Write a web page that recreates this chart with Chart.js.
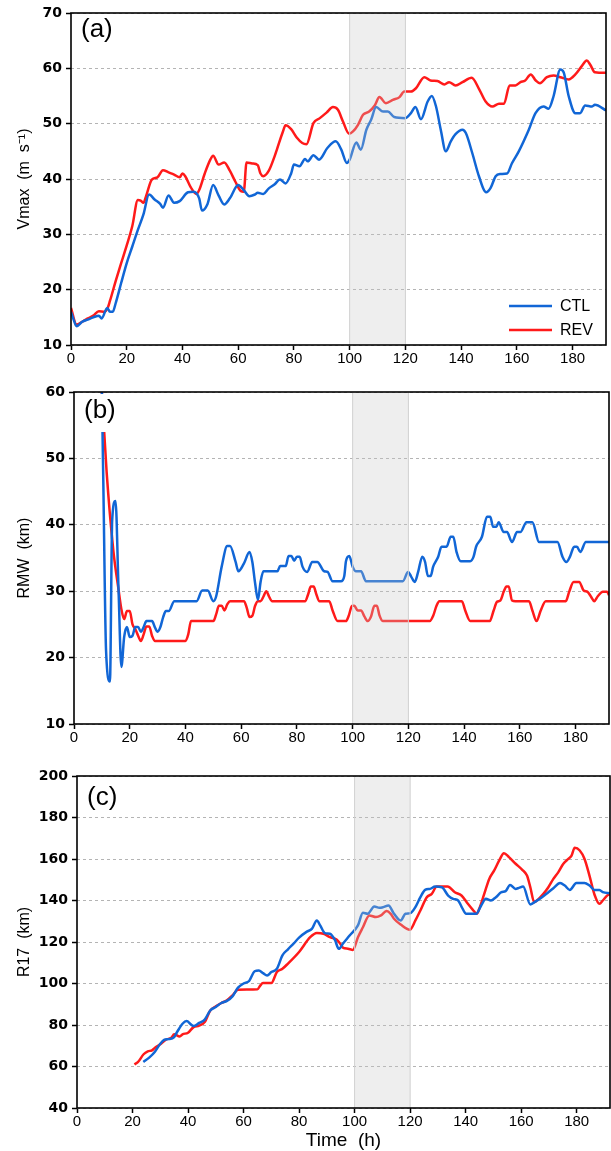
<!DOCTYPE html>
<html lang="en">
<head>
<meta charset="UTF-8">
<title>Vmax / RMW / R17</title>
<script src="https://cdn.jsdelivr.net/npm/chart.js@4.4.0/dist/chart.umd.min.js"></script>
<style>
  body { margin: 0; background: #fff; }
  #wrap { position: relative; width: 611px; height: 1151px; }
  canvas { position: absolute; left: 0; }
</style>
</head>
<body>
<div id="wrap">
  <canvas id="chart-a" width="611" height="372" style="top:0px"></canvas>
  <canvas id="chart-b" width="611" height="380" style="top:372px"></canvas>
  <canvas id="chart-c" width="611" height="399" style="top:752px"></canvas>
</div>
<script>
// ---- data (time in hours) ----
const seriesNames = ['CTL', 'REV'];
const hourTicks = [0, 20, 40, 60, 80, 100, 120, 140, 160, 180];

// (a) Vmax (m/s)
const vmaxCtlHours = [0, 1, 2, 4, 6, 8, 10, 11, 13, 14, 15, 16, 18, 20, 22, 24, 26, 28, 30, 32, 33, 35, 37, 39, 42, 44, 46, 47, 49, 51, 53, 55, 57, 60, 62, 64, 66, 67, 69, 71, 73, 75, 77, 79, 80, 82, 84, 85, 87, 89, 92, 95, 97, 99, 100, 102.4, 104, 106, 107.7, 109.5, 112, 113.7, 116, 120, 122, 123.6, 125.6, 128, 129.5, 131, 132.7, 134.5, 136.3, 138, 140.5, 141.7, 144, 146.4, 149, 150.6, 152.4, 154, 156.5, 158.3, 160.7, 164.3, 166.7, 169.6, 171.4, 173.2, 175.6, 176.8, 178.6, 181, 182.7, 184.5, 187, 188, 192];
const vmaxCtl = [16.0, 14.5, 13.4, 14.2, 14.6, 15.0, 15.3, 14.8, 16.7, 16.0, 16.0, 17.5, 21.2, 24.8, 27.8, 30.8, 33.6, 37.2, 36.3, 35.5, 34.8, 37.0, 35.7, 36.0, 37.6, 37.7, 36.5, 34.3, 35.5, 38.9, 37.0, 35.4, 36.5, 38.9, 38.0, 36.9, 37.2, 37.5, 37.3, 38.3, 39.0, 39.9, 39.2, 41.0, 42.6, 42.3, 43.6, 43.2, 44.3, 43.5, 45.6, 46.8, 45.3, 42.9, 43.5, 46.6, 45.3, 48.9, 50.7, 53.0, 52.2, 52.2, 51.2, 51.0, 51.9, 53.0, 50.8, 54.0, 55.0, 53.1, 48.9, 45.0, 46.8, 48.1, 48.9, 48.3, 44.7, 40.5, 37.6, 38.4, 40.5, 40.9, 41.0, 42.9, 45.0, 48.9, 51.9, 53.1, 52.7, 55.0, 59.8, 59.3, 55.0, 51.9, 51.9, 53.3, 53.1, 53.4, 52.4];
const vmaxRevHours = [0, 2, 4, 6, 8, 10, 12, 13, 14, 16, 18, 20, 22, 24, 25, 26, 27, 29, 31, 33, 35, 37, 39, 40, 41, 43, 45, 46, 48, 50, 51, 53, 55, 57, 59, 61, 62, 63, 65, 67, 68, 69, 71, 73, 74, 76, 77, 79, 81, 83, 84.5, 87, 89.3, 91.7, 94, 95.8, 97.6, 99.8, 101.2, 103, 104.8, 107, 109, 110.7, 113, 115.5, 117.9, 119.6, 122, 123.8, 126.8, 129, 131.5, 134, 135.7, 138, 140.5, 143.8, 146.4, 148.8, 151.2, 153.6, 155.4, 157.4, 159.5, 161.3, 163, 165, 166.8, 168.3, 170.8, 173.2, 175.6, 178.6, 181, 183.3, 185.1, 186.3, 188, 192];
const vmaxRev = [16.7, 13.7, 14.2, 14.8, 15.3, 16.1, 16.0, 16.5, 18.0, 21.5, 24.8, 28.0, 31.5, 36.2, 36.1, 35.7, 37.0, 39.9, 40.3, 41.6, 41.2, 40.8, 40.3, 41.0, 40.5, 38.5, 37.3, 38.0, 41.0, 43.5, 44.2, 42.6, 43.0, 41.5, 39.5, 37.8, 37.7, 43.0, 42.8, 42.5, 41.0, 40.5, 41.5, 44.0, 45.5, 48.5, 49.7, 49.0, 47.5, 46.5, 46.3, 50.1, 51.0, 52.0, 53.0, 52.5, 50.4, 48.2, 48.6, 49.8, 51.6, 52.2, 53.3, 54.8, 53.7, 54.3, 54.8, 55.8, 55.8, 56.4, 58.4, 57.8, 57.7, 57.1, 57.5, 56.9, 57.5, 58.3, 56.3, 54.0, 53.1, 53.6, 53.6, 56.9, 56.9, 57.5, 57.8, 58.9, 57.8, 57.3, 58.4, 58.7, 58.4, 58.0, 58.9, 60.4, 61.4, 60.7, 59.3, 59.2];

// (b) RMW (km)
const rmwCtlHours = [10, 10.5, 11.5, 12.9, 13.7, 14.9, 16, 17, 18, 19, 20, 21, 22, 23, 24, 25, 26, 28, 29, 30, 31, 32, 33, 34, 36, 44, 46, 48, 50, 51, 53, 55, 56, 58, 59, 61, 63, 64, 65, 66, 67, 68, 73, 74, 76, 77, 78, 79, 80, 81, 82, 83.7, 85.5, 87.3, 89.8, 91, 92.8, 95.8, 97, 97.6, 98.8, 100, 101.2, 103, 104.8, 118, 119.9, 121, 122.3, 123.5, 125, 126, 127, 128, 128.9, 130.7, 131.9, 133.7, 135.2, 136.1, 137.3, 138.8, 142.2, 143.4, 144.3, 146.4, 148.2, 149.4, 150.4, 151.6, 152.4, 154.2, 155.4, 157.2, 159, 160.2, 162.4, 164.5, 166.9, 173.5, 175.3, 176.7, 178, 179.5, 180.5, 181.7, 183.7, 192];
const rmwCtl = [60.0, 47.0, 21.1, 16.4, 40.7, 43.6, 30.0, 18.6, 23.1, 24.6, 23.1, 23.3, 24.6, 24.6, 23.9, 24.6, 25.5, 25.5, 24.6, 23.9, 24.6, 26.1, 27.0, 27.0, 28.5, 28.5, 30.1, 30.1, 28.5, 29.2, 33.7, 36.8, 36.8, 34.4, 33.0, 34.2, 35.9, 34.4, 31.2, 28.7, 31.5, 33.0, 33.0, 33.8, 33.8, 35.3, 35.3, 34.6, 35.2, 35.2, 33.7, 32.9, 34.4, 34.4, 33.0, 32.9, 31.5, 31.5, 32.3, 34.5, 35.3, 33.7, 33.0, 33.0, 31.5, 31.5, 32.9, 32.2, 31.4, 32.9, 35.2, 34.4, 32.3, 32.3, 33.7, 35.2, 36.7, 36.7, 38.2, 38.2, 35.9, 34.5, 34.5, 35.2, 36.7, 38.2, 41.2, 41.2, 39.7, 39.7, 40.4, 38.9, 38.9, 37.4, 38.9, 38.9, 40.4, 40.4, 37.4, 37.4, 35.2, 34.4, 35.2, 36.7, 36.7, 35.9, 37.4, 37.4];
const rmwRevHours = [10, 11.7, 14.1, 16, 17, 18, 19, 20, 21, 22, 23, 24, 25, 26, 27, 28, 29, 40, 41, 42, 50, 51, 52, 53, 54, 55, 56, 61, 62, 63, 64, 65, 66, 67, 68, 69, 70, 71, 83, 84, 85, 86, 87, 88, 91.6, 92.8, 94.6, 97.6, 98.6, 99.8, 100.6, 101.8, 103, 104.2, 105.4, 106.6, 107.8, 108.7, 109.6, 110.8, 127.7, 128.9, 130.1, 131.1, 139.2, 140.4, 142.2, 149.2, 150.6, 151.8, 153, 154.2, 155.2, 156, 157.2, 158.4, 163.3, 164.5, 166, 167.5, 169.3, 176.5, 177.7, 179.3, 181.3, 182.9, 184.3, 185.5, 186.7, 187.9, 189.8, 191.3, 192];
const rmwRev = [60.0, 48.0, 36.2, 30.2, 27.3, 25.8, 27.0, 27.0, 25.0, 24.3, 23.3, 22.5, 23.5, 24.7, 24.7, 23.3, 22.5, 22.5, 23.5, 25.5, 25.5, 26.5, 27.8, 27.8, 27.1, 28.0, 28.5, 28.5, 27.5, 26.1, 26.3, 27.8, 28.5, 28.5, 29.2, 30.0, 29.2, 28.5, 28.5, 29.5, 30.7, 30.7, 29.5, 28.5, 28.5, 27.1, 25.5, 25.5, 26.3, 27.8, 27.8, 27.1, 27.1, 26.2, 25.5, 26.2, 27.8, 27.8, 26.4, 25.5, 25.5, 26.3, 27.8, 28.5, 28.5, 27.1, 25.5, 25.5, 27.1, 28.4, 28.6, 29.9, 30.7, 30.7, 28.6, 28.5, 28.5, 27.1, 25.5, 27.1, 28.5, 28.5, 29.9, 31.4, 31.4, 30.1, 29.9, 29.2, 28.5, 29.2, 29.9, 29.9, 29.4];

// (c) R17 (km)
const r17CtlHours = [23.9, 26, 28, 30, 31.5, 33, 35, 36, 38, 39.5, 41, 42, 44, 46, 48, 50, 52, 54, 56, 58, 60, 62, 64, 65.5, 67, 68.5, 70, 72, 74, 76, 78, 80, 82.8, 84.6, 86.4, 87.6, 89.3, 91.1, 92.9, 94.3, 95.9, 98.2, 101.2, 103, 104.7, 107.1, 108.9, 110.3, 112.2, 114.2, 116.6, 118.3, 120.1, 121.9, 123.7, 125.4, 127.2, 129, 131.4, 133.7, 135.5, 137.3, 138.5, 140.2, 143.8, 145.6, 147.3, 149.1, 150.9, 152.9, 154.4, 156, 158, 159.2, 160.7, 163.3, 165.4, 167.5, 169.8, 171.6, 174, 175.7, 177.5, 179.9, 182.8, 184.6, 186.4, 188.2, 189.4, 192];
const r17Ctl = [62.2, 64.3, 67.0, 71.0, 72.9, 73.2, 74.2, 76.5, 80.6, 81.9, 80.3, 79.5, 81.0, 82.6, 87.0, 88.7, 90.6, 91.6, 93.8, 98.0, 100.0, 101.2, 105.9, 106.3, 105.0, 103.9, 105.5, 107.1, 113.6, 116.5, 119.2, 122.1, 125.0, 126.3, 130.4, 128.0, 124.3, 124.0, 121.0, 116.7, 119.4, 123.1, 128.0, 134.1, 133.6, 137.1, 136.5, 136.8, 137.6, 133.6, 130.4, 133.6, 133.9, 136.8, 141.6, 145.1, 145.6, 146.7, 146.4, 142.4, 140.8, 140.0, 137.1, 133.6, 133.6, 137.6, 140.8, 140.0, 141.6, 144.0, 144.5, 147.5, 145.6, 146.1, 146.7, 138.1, 139.7, 141.6, 144.0, 145.9, 148.4, 147.2, 145.1, 148.4, 148.4, 147.2, 145.1, 145.1, 144.0, 143.5];
const r17RevHours = [20.7, 22, 24, 25.5, 27, 28, 30, 32, 34, 35, 37, 38, 40, 42, 44, 46, 48, 50, 52, 54, 56, 58, 65, 66, 67, 70, 72, 74, 76, 80, 84, 86.4, 88.8, 91.1, 93.5, 94.7, 95.9, 97.6, 99.4, 101.2, 103, 105.3, 107.7, 109.5, 111.5, 113, 114.2, 116.6, 119.9, 121.9, 123.7, 126, 127.8, 129.6, 133.5, 136.1, 138.5, 140.8, 142.6, 144, 144.9, 146.7, 148.5, 150.3, 152.1, 153.8, 155.6, 158, 160.4, 162.1, 163.3, 164.7, 166.3, 168, 169.8, 171.6, 173.4, 175.2, 177, 178.1, 179.3, 181.1, 182.8, 184.6, 186.4, 188.2, 189.4, 191, 192];
const r17Rev = [61.0, 62.2, 65.9, 67.3, 67.8, 68.9, 70.7, 72.9, 73.9, 75.5, 74.5, 75.5, 76.3, 79.0, 79.7, 81.4, 87.0, 89.0, 90.6, 91.9, 94.3, 97.0, 97.2, 99.0, 100.2, 100.2, 105.5, 107.1, 109.6, 115.2, 122.3, 124.3, 124.0, 122.3, 121.2, 119.4, 117.2, 116.8, 116.2, 122.3, 127.1, 132.8, 132.0, 132.8, 134.9, 133.6, 131.2, 128.4, 125.9, 130.4, 135.2, 141.6, 143.2, 146.7, 146.7, 144.0, 142.4, 138.4, 135.5, 133.6, 136.0, 143.2, 150.4, 154.5, 159.3, 162.8, 160.9, 157.7, 154.8, 152.0, 146.4, 139.2, 140.8, 143.2, 146.4, 150.4, 153.7, 157.7, 160.1, 161.5, 165.4, 164.1, 160.1, 152.0, 142.9, 138.4, 140.0, 142.4, 143.0];

// shaded period
const bandStart = 100;
const bandEnd = 120;

const CTL_COLOR = '#1166d6';
const REV_COLOR = '#ff1a1a';

function pairs(xs, ys) {
    return xs.map((x, i) => ({ x: x, y: ys[i] }));
}

// band, label, legend and frame
const panelDeco = {
    id: 'panelDeco',
    afterDatasetsDraw(chart, args, opts) {
        const { ctx, chartArea: a, scales: { x } } = chart;
        const x1 = x.getPixelForValue(bandStart);
        const x2 = x.getPixelForValue(bandEnd);
        ctx.save();
        ctx.fillStyle = 'rgba(200,200,200,0.3)';
        ctx.fillRect(x1, a.top, x2 - x1, a.bottom - a.top);
        ctx.strokeStyle = '#d0d0d0';
        ctx.lineWidth = 1;
        ctx.beginPath();
        ctx.moveTo(x1, a.top); ctx.lineTo(x1, a.bottom);
        ctx.moveTo(x2, a.top); ctx.lineTo(x2, a.bottom);
        ctx.stroke();
        ctx.restore();
    },
    afterDraw(chart, args, opts) {
        const { ctx, chartArea: a } = chart;
        ctx.save();
        // panel label on a white box
        ctx.fillStyle = '#fff';
        ctx.fillRect(a.left + 4, a.top + 2, 50, 38);
        ctx.fillStyle = '#000';
        ctx.font = '26px "Liberation Sans", Arial, sans-serif';
        ctx.textBaseline = 'alphabetic';
        ctx.textAlign = 'left';
        ctx.fillText(opts.label, a.left + 10, a.top + opts.labelDy);

        if (opts.legend) {
            ctx.font = '16px "Liberation Sans", Arial, sans-serif';
            ctx.textBaseline = 'middle';
            chart.data.datasets.forEach((ds, i) => {
                const y = a.bottom - 39 + i * 24;
                ctx.strokeStyle = ds.borderColor;
                ctx.lineWidth = 2.5;
                ctx.beginPath();
                ctx.moveTo(a.right - 97, y);
                ctx.lineTo(a.right - 54, y);
                ctx.stroke();
                ctx.fillStyle = '#000';
                ctx.fillText(ds.label, a.right - 46, y + 1);
            });
        }

        // frame
        ctx.strokeStyle = '#000';
        ctx.lineWidth = 1.6;
        ctx.strokeRect(a.left, a.top, a.right - a.left, a.bottom - a.top);
        ctx.restore();
    }
};

function makePanel(id, opt) {
    const ctx = document.getElementById(id).getContext('2d');
    return new Chart(ctx, {
        type: 'line',
        data: {
            datasets: [{
                label: seriesNames[0],
                data: pairs(opt.ctlX, opt.ctlY),
                borderColor: CTL_COLOR,
                borderWidth: 2.5,
                pointRadius: 0,
                cubicInterpolationMode: 'monotone'
            }, {
                label: seriesNames[1],
                data: pairs(opt.revX, opt.revY),
                borderColor: REV_COLOR,
                borderWidth: 2.5,
                pointRadius: 0,
                cubicInterpolationMode: 'monotone'
            }]
        },
        options: {
            responsive: false,
            animation: false,
            devicePixelRatio: 1,
            layout: { padding: { top: opt.padTop, right: opt.padRight, left: 0, bottom: 0 } },
            plugins: {
                legend: { display: false },
                tooltip: { enabled: false },
                panelDeco: { label: opt.label, legend: opt.legend, labelDy: opt.labelDy }
            },
            scales: {
                x: {
                    type: 'linear',
                    min: 0,
                    max: 192,
                    afterBuildTicks: s => { s.ticks = hourTicks.map(v => ({ value: v })); },
                    afterFit: s => { s.height = opt.xHeight; },
                    ticks: {
                        padding: 0,
                        color: '#000',
                        font: { family: '"Liberation Sans", Arial, sans-serif', size: 15 }
                    },
                    grid: {
                        drawOnChartArea: false,
                        drawTicks: true,
                        tickLength: 5,
                        tickColor: '#000',
                        tickWidth: 1.5
                    },
                    border: { display: false },
                    title: {
                        display: !!opt.xTitle,
                        text: opt.xTitle || '',
                        color: '#000',
                        font: { family: '"Liberation Sans", Arial, sans-serif', size: 19, lineHeight: 1 },
                        padding: { top: 0, bottom: 1 }
                    }
                },
                y: {
                    min: opt.yMin,
                    max: opt.yMax,
                    afterFit: s => { s.width = opt.yWidth; },
                    ticks: {
                        stepSize: opt.yStep,
                        padding: 4,
                        color: '#000',
                        font: { family: '"DejaVu Sans", sans-serif', size: 14, weight: 'bold' }
                    },
                    grid: {
                        color: '#b4b4b4',
                        lineWidth: 1,
                        tickLength: 5,
                        tickColor: '#000',
                        tickWidth: 1.5,
                        tickBorderDash: []
                    },
                    border: { display: false, dash: [3, 3] },
                    title: {
                        display: true,
                        text: opt.yTitle,
                        color: '#000',
                        font: { family: '"Liberation Sans", Arial, sans-serif', size: 16, lineHeight: 1.2 },
                        padding: { top: 15, bottom: 0 }
                    }
                }
            }
        },
        plugins: [panelDeco]
    });
}

makePanel('chart-a', {
    ctlX: vmaxCtlHours, ctlY: vmaxCtl, revX: vmaxRevHours, revY: vmaxRev,
    yMin: 10, yMax: 70, yStep: 10, yTitle: 'Vmax  (m  s\u207B\u00B9)',
    padTop: 13, padRight: 5, yWidth: 71, xHeight: 27,
    label: '(a)', labelDy: 24, legend: true
});

makePanel('chart-b', {
    ctlX: rmwCtlHours, ctlY: rmwCtl, revX: rmwRevHours, revY: rmwRev,
    yMin: 10, yMax: 60, yStep: 10, yTitle: 'RMW  (km)',
    padTop: 20, padRight: 2, yWidth: 74, xHeight: 28,
    label: '(b)', labelDy: 26, legend: false
});

makePanel('chart-c', {
    ctlX: r17CtlHours, ctlY: r17Ctl, revX: r17RevHours, revY: r17Rev,
    yMin: 40, yMax: 200, yStep: 20, yTitle: 'R17  (km)',
    padTop: 24, padRight: 1, yWidth: 77, xHeight: 43,
    label: '(c)', labelDy: 29, legend: false, xTitle: 'Time  (h)'
});
</script>
</body>
</html>
